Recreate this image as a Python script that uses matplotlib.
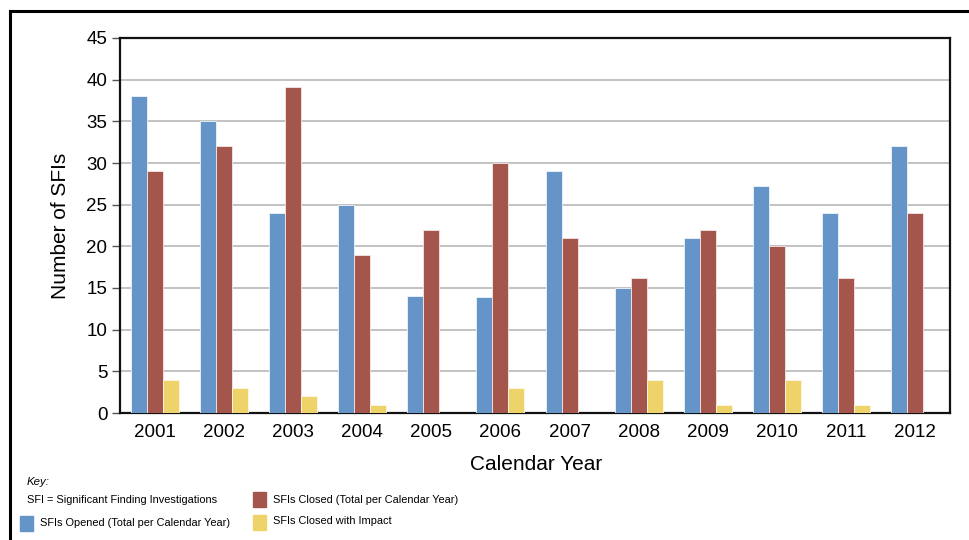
import numpy as np
import matplotlib
matplotlib.use("Agg")
import matplotlib.pyplot as plt
from matplotlib.patches import Rectangle
from matplotlib.lines import Line2D

plt.rcParams['font.family'] = ['Liberation Sans', 'DejaVu Sans']

# data
years = ['2001', '2002', '2003', '2004', '2005', '2006',
         '2007', '2008', '2009', '2010', '2011', '2012']
opened = [38, 35, 24, 25, 14.1, 13.9, 29, 15, 21, 27.2, 24, 32]
closed = [29, 32, 39.1, 19, 22, 30, 21, 16.2, 22, 20, 16.2, 24]
impact = [4, 3, 2, 1, 0, 3, 0, 4, 1, 4, 1, 0]
yticks = [0, 5, 10, 15, 20, 25, 30, 35, 40, 45]

c_open = '#6594c9'
c_closed = '#a5564c'
c_impact = '#eed26a'

W, H = 970, 540
fig = plt.figure(figsize=(9.7, 5.4), dpi=100)
ax = fig.add_axes([120 / W, 1 - 413 / H, 830 / W, 375 / H])

x = np.arange(len(years))
bw = 0.232

def bars(offset, vals, color, edge):
    v = np.array(vals, dtype=float)
    # no outline for empty bars
    ax.bar(x + offset, v, bw, color=color, edgecolor=[edge if h > 0 else 'none' for h in v],
           linewidth=0.6, zorder=3)

bars(-bw, opened, c_open, '#eef3fa')
bars(0, closed, c_closed, '#f6e8e6')
bars(bw, impact, c_impact, '#fdf8e6')

ax.set_xlim(-0.5, len(years) - 0.5)
ax.set_ylim(0, 45)
ax.set_yticks(yticks)
ax.set_xticks(x)
ax.set_xticklabels(years)
ax.tick_params(axis='y', direction='out', length=6, width=1, color='#555555',
               labelsize=13.5, pad=3)
ax.tick_params(axis='x', length=0, labelsize=13.5, pad=8)
ax.yaxis.grid(True, color='#b8b8b8', linewidth=1.2, zorder=0)
ax.set_axisbelow(True)
for s in ax.spines.values():
    s.set_linewidth(1.6)
    s.set_color('#111111')

ax.set_ylabel('Number of SFIs', fontsize=15, labelpad=12)
fig.text(536 / W, 1 - 464 / H, 'Calendar Year', fontsize=15, ha='center', va='center')

# outer frame (left and top only)
fig.add_artist(Line2D([10 / W, 10 / W], [0, 1 - 11 / H], color='black', linewidth=2.2,
                      transform=fig.transFigure))
fig.add_artist(Line2D([10 / W, 1], [1 - 11 / H, 1 - 11 / H], color='black', linewidth=2.2,
                      transform=fig.transFigure))

# key
kfs = 7.9
fig.text(27 / W, 1 - 482 / H, 'Key:', fontsize=kfs + 0.3, style='italic', va='center')
fig.text(27 / W, 1 - 500 / H, 'SFI = Significant Finding Investigations', fontsize=kfs,
         va='center')

def key_item(px, py, color, label, tx, ty):
    fig.add_artist(Rectangle((px / W, 1 - (py + 8) / H), 13 / W, 15 / H, color=color,
                             transform=fig.transFigure))
    fig.text(tx / W, 1 - ty / H, label, fontsize=kfs, va='center')

key_item(20, 523, c_open, 'SFIs Opened (Total per Calendar Year)', 40, 523)
key_item(253, 499, c_closed, 'SFIs Closed (Total per Calendar Year)', 273, 500)
key_item(253, 522, c_impact, 'SFIs Closed with Impact', 273, 521)

fig.savefig('out.png', dpi=100)
